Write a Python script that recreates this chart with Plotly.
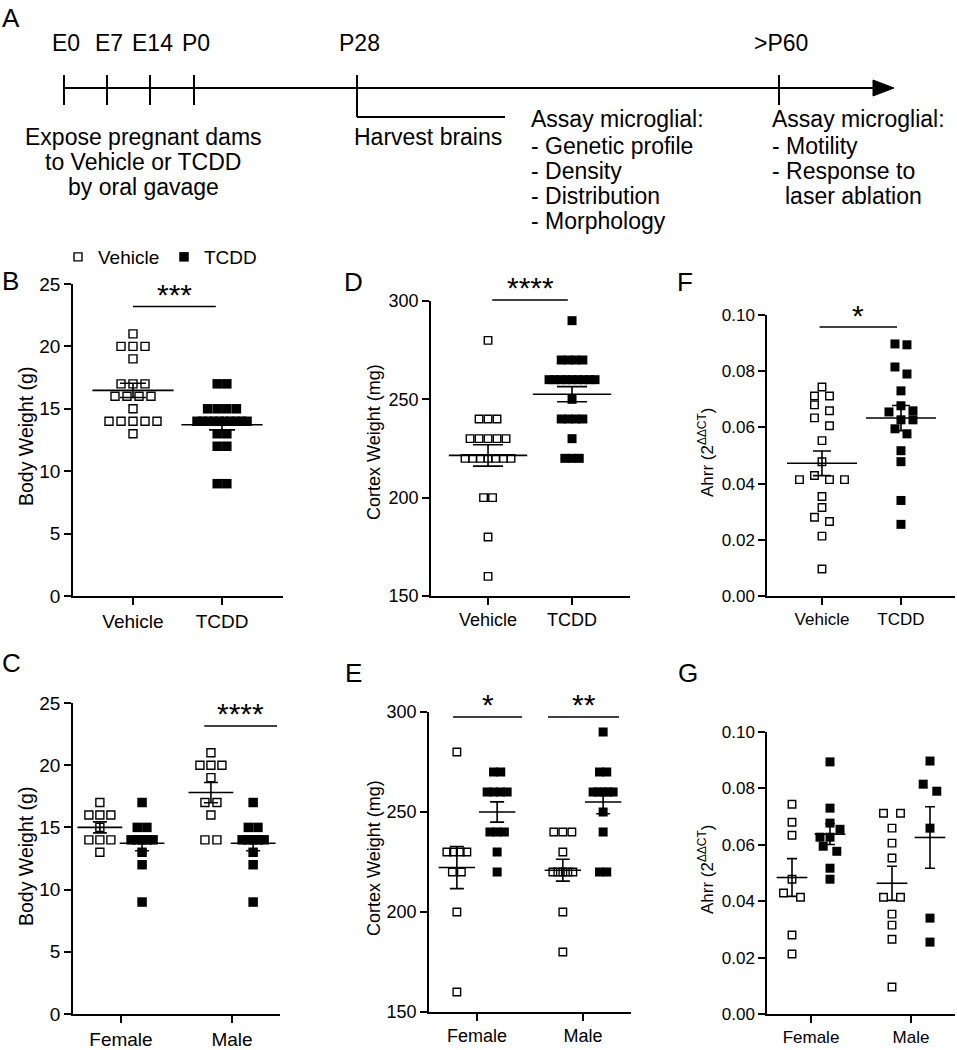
import numpy as np
import plotly.graph_objects as go

# ---------------- data ----------------
treatments = ["Vehicle", "TCDD"]
sexes = ["Female", "Male"]

# body weight (g)
bw_veh_f = [17, 16, 16, 16, 15, 14, 14, 14, 13]
bw_veh_m = [21, 20, 20, 20, 19, 17, 17, 16, 14, 14]
bw_tcdd_f = [17, 15, 15, 14, 14, 14, 14, 14, 13, 12, 9]
bw_tcdd_m = [17, 15, 15, 14, 14, 14, 14, 14, 13, 12, 9]

# cortex weight (mg)
cw_veh_f = [280, 230, 230, 230, 230, 220, 220, 200, 160]
cw_veh_m = [240, 240, 240, 230, 220, 220, 220, 220, 220, 200, 180]
cw_tcdd_f = [270, 270, 260, 260, 260, 260, 240, 240, 240, 230, 220]
cw_tcdd_m = [290, 270, 270, 260, 260, 260, 260, 260, 250, 240, 220, 220]

# Ahrr expression
ah_veh_f = [0.0744, 0.0680, 0.0634, 0.0478, 0.0429, 0.0414, 0.0280, 0.0213]
ah_veh_m = [0.0712, 0.0712, 0.0659, 0.0606, 0.0553, 0.0414, 0.0414, 0.0354, 0.0315, 0.0265, 0.0096]
ah_tcdd_f = [0.0894, 0.0730, 0.0677, 0.0655, 0.0627, 0.0627, 0.0595, 0.0577, 0.0517, 0.0478]
ah_tcdd_m = [0.0897, 0.0815, 0.0790, 0.0659, 0.0340, 0.0255]

# timeline (panel A)
stages = ["E0", "E7", "E14", "P0", "P28", ">P60"]
expose_text = ["Expose pregnant dams", "to Vehicle or TCDD", "by oral gavage"]
harvest_text = "Harvest brains"
assay1_text = ["Assay microglial:", "- Genetic profile", "- Density", "- Distribution", "- Morphology"]
assay2_text = ["Assay microglial:", "- Motility", "- Response to", "laser ablation"]

W, H = 957, 1050
FONT = "Liberation Sans, Arial, sans-serif"
d = 0.19  # dodge within sex groups


def sem(v):
    v = np.asarray(v, float)
    return v.std(ddof=1) / np.sqrt(len(v))


def swarm(vals, unit_px, step, size, maxhalf):
    # simple beeswarm, returns x offsets in px
    ys = [v * unit_px for v in vals]
    order = sorted(range(len(vals)), key=lambda i: -vals[i])
    clusters, cur = [], [order[0]]
    for a, b in zip(order, order[1:]):
        if ys[a] - ys[b] < size:
            cur.append(b)
        else:
            clusters.append(cur)
            cur = [b]
    clusters.append(cur)
    off = [0.0] * len(vals)
    for cl in clusters:
        placed = []
        for i in cl:
            k = 0
            while True:
                m = (k + 1) // 2
                c = m * step * (1 if k % 2 else -1)
                if all(abs(c - x) >= step - 1e-6 or abs(ys[i] - y) >= size for x, y in placed):
                    break
                k += 1
            placed.append((c, ys[i]))
            off[i] = c
        xs = [off[i] for i in cl]
        mid = (max(xs) + min(xs)) / 2
        half = (max(xs) - min(xs)) / 2
        f = min(1.0, maxhalf / half) if half > 0 else 1.0
        for i in cl:
            off[i] = (off[i] - mid) * f
    return off


panels = [
    dict(name="B", box=(73, 284, 283, 596), xr=(-0.674, 1.685), yr=(0, 25), ytick=[0, 5, 10, 15, 20, 25],
         yfmt="", xt=[0, 1], xtt=treatments, fs=19, ms=8, step=12, maxhalf=25, mh=29, cap=13,
         groups=[(0, bw_veh_f + bw_veh_m, False), (1, bw_tcdd_f + bw_tcdd_m, True)],
         sig=[(0.0, 0.93, 23.2, "***", 24.3)]),
    dict(name="D", box=(431, 301, 630, 596), xr=(-0.679, 1.690), yr=(150, 300), ytick=[150, 200, 250, 300],
         yfmt="", xt=[0, 1], xtt=treatments, fs=18, ms=7.5, step=9, maxhalf=23, mh=28, cap=15,
         groups=[(0, cw_veh_f + cw_veh_m, False), (1, cw_tcdd_f + cw_tcdd_m, True)],
         sig=[(0.05, 0.95, 300.5, "****", 308)]),
    dict(name="F", box=(767, 315, 955, 596), xr=(-0.696, 1.684), yr=(0, 0.10),
         ytick=[0, 0.02, 0.04, 0.06, 0.08, 0.10], yfmt=".2f", xt=[0, 1], xtt=treatments, fs=17,
         ms=7.5, step=15, maxhalf=25, mh=25, cap=9,
         groups=[(0, ah_veh_f + ah_veh_m, False), (1, ah_tcdd_f + ah_tcdd_m, True)],
         sig=[(-0.03, 0.95, 0.0957, "*", 0.1005)]),
    dict(name="C", box=(73, 703, 280, 1014), xr=(-0.432, 1.432), yr=(0, 25), ytick=[0, 5, 10, 15, 20, 25],
         yfmt="", xt=[0, 1], xtt=sexes, fs=19, ms=8, step=12, maxhalf=11, mh=16, cap=7,
         groups=[(-d, bw_veh_f, False), (d, bw_tcdd_f, True), (1 - d, bw_veh_m, False), (1 + d, bw_tcdd_m, True)],
         sig=[(0.75, 1.405, 23.15, "****", 24.3)]),
    dict(name="E", box=(429, 712, 631, 1012), xr=(-0.453, 1.453), yr=(150, 300), ytick=[150, 200, 250, 300],
         yfmt="", xt=[0, 1], xtt=sexes, fs=18, ms=7.5, step=9, maxhalf=10, mh=13, cap=7,
         groups=[(-d, cw_veh_f, False), (d, cw_tcdd_f, True), (1 - d, cw_veh_m, False), (1 + d, cw_tcdd_m, True)],
         sig=[(-0.226, 0.425, 297.5, "*", 305), (0.67, 1.34, 297.5, "**", 305)]),
    dict(name="G", box=(767, 732, 955, 1014), xr=(-0.44, 1.44), yr=(0, 0.10),
         ytick=[0, 0.02, 0.04, 0.06, 0.08, 0.10], yfmt=".2f", xt=[0, 1], xtt=sexes, fs=17,
         ms=7.5, step=17, maxhalf=10, mh=11, cap=5,
         groups=[(-d, ah_veh_f, False), (d, ah_tcdd_f, True), (1 - d, ah_veh_m, False), (1 + d, ah_tcdd_m, True)],
         sig=[]),
]

ytitles = {"B": ("Body Weight (g)", 26, 437, 19.5), "C": ("Body Weight (g)", 26, 857, 19.5),
           "D": ("Cortex Weight (mg)", 374, 442, 18), "E": ("Cortex Weight (mg)", 374, 858, 18),
           "F": ("Ahrr (2<sup>ΔΔCT</sup>)", 706, 453, 17), "G": ("Ahrr (2<sup>ΔΔCT</sup>)", 706, 870, 17)}
letters = {"A": (11, 18), "B": (10, 281), "C": (11, 663), "D": (353, 282), "E": (353, 673),
           "F": (685, 282), "G": (688, 673)}


def P(x, y):
    return x / W, 1 - y / H


def to_px(p, x, y):
    l, t, r, b = p["box"]
    x0, x1 = p["xr"]
    y0, y1 = p["yr"]
    return l + (x - x0) / (x1 - x0) * (r - l), b - (y - y0) / (y1 - y0) * (b - t)


fig = go.Figure()
shapes, annots = [], []
layout = {}

for k, p in enumerate(panels, start=1):
    xid = "x" if k == 1 else f"x{k}"
    yid = "y" if k == 1 else f"y{k}"
    l, t, r, b = p["box"]
    ax = dict(showline=True, linecolor="black", linewidth=1.5, ticks="outside", ticklen=7, tickwidth=1.5,
              tickcolor="black", showgrid=False, zeroline=False, automargin=False,
              tickfont=dict(size=p["fs"], color="black", family=FONT))
    layout["xaxis" + ("" if k == 1 else str(k))] = dict(ax, domain=[l / W, r / W], anchor=yid, range=list(p["xr"]),
                                                       tickvals=p["xt"], ticktext=p["xtt"])
    layout["yaxis" + ("" if k == 1 else str(k))] = dict(ax, domain=[1 - b / H, 1 - t / H], anchor=xid,
                                                       range=list(p["yr"]), tickvals=p["ytick"], tickformat=p["yfmt"])
    ypx = (b - t) / (p["yr"][1] - p["yr"][0])
    xpx = (r - l) / (p["xr"][1] - p["xr"][0])
    for gi, (xc, vals, filled) in enumerate(p["groups"]):
        step = p["step"] * (0.8 if filled else 1.0)
        off = swarm(vals, ypx, step, p["ms"] + 1, p["maxhalf"])
        xs = [xc + o / xpx for o in off]
        if filled:
            mk = dict(symbol="square", size=p["ms"] + 1.5, color="black", line=dict(width=0))
        else:
            mk = dict(symbol="square-open", size=p["ms"], color="black", line=dict(width=1.4, color="black"))
        show = p["name"] == "B"
        fig.add_trace(go.Scatter(x=xs, y=vals, mode="markers", marker=mk, xaxis=xid, yaxis=yid,
                                 name=treatments[1] if filled else treatments[0], showlegend=show,
                                 cliponaxis=False, hoverinfo="y"))
        fig.add_trace(go.Scatter(x=[xc], y=[float(np.mean(vals))], mode="markers", xaxis=xid, yaxis=yid,
                                 marker=dict(symbol="line-ew", size=2 * p["mh"], color="black",
                                             line=dict(width=1.6, color="black")),
                                 error_y=dict(type="data", array=[sem(vals)], width=p["cap"], thickness=1.6,
                                              color="black"),
                                 showlegend=False, cliponaxis=False, hoverinfo="skip"))
    for xa, xb, yl, lab, ys in p["sig"]:
        x0p, y0p = to_px(p, xa, yl)
        x1p, _ = to_px(p, xb, yl)
        a0, b0 = P(x0p, y0p)
        a1, _ = P(x1p, y0p)
        shapes.append(dict(type="line", xref="paper", yref="paper", x0=a0, x1=a1, y0=b0, y1=b0,
                           line=dict(color="black", width=1.5)))
        sx, sy = to_px(p, (xa + xb) / 2, ys)
        ax_, ay_ = P(sx, sy)
        annots.append(dict(x=ax_, y=ay_, xref="paper", yref="paper", text=lab, showarrow=False,
                           xanchor="center", yanchor="middle", yshift=-2,
                           font=dict(size=30, color="black", family=FONT)))

for key, (txt, x, y, fs) in ytitles.items():
    a, bb = P(x, y)
    annots.append(dict(x=a, y=bb, xref="paper", yref="paper", text=txt, textangle=-90, showarrow=False,
                       xanchor="center", yanchor="middle", font=dict(size=fs, color="black", family=FONT)))

for key, (x, y) in letters.items():
    a, bb = P(x, y)
    annots.append(dict(x=a, y=bb, xref="paper", yref="paper", text=key, showarrow=False,
                       xanchor="center", yanchor="middle", font=dict(size=26, color="black", family=FONT)))

# ---------------- panel A: timeline ----------------
stage_x = [64, 107, 150, 194, 357, 779]
line_y = 88
LW = 2
x0, y0 = P(63, line_y)
x1, _ = P(876, line_y)
shapes.append(dict(type="line", xref="paper", yref="paper", x0=x0, x1=x1, y0=y0, y1=y0,
                   line=dict(color="black", width=LW)))
ta, tb = P(873, 80)
tc, td = P(894, 88)
te, tf = P(873, 96)
shapes.append(dict(type="path", xref="paper", yref="paper", path=f"M {ta},{tb} L {tc},{td} L {te},{tf} Z",
                   fillcolor="black", line=dict(color="black", width=1)))
for name, sxp in zip(stages, stage_x):
    bottom = 117 if name == "P28" else 105
    a, top_ = P(sxp, 75)
    _, bot = P(sxp, bottom)
    shapes.append(dict(type="line", xref="paper", yref="paper", x0=a, x1=a, y0=top_, y1=bot,
                       line=dict(color="black", width=LW)))
    la, lb = P(sxp + 2, 43)
    annots.append(dict(x=la, y=lb, xref="paper", yref="paper", text=name, showarrow=False,
                       xanchor="center", yanchor="middle", font=dict(size=23, color="black", family=FONT)))
ha, hb = P(357, 117)
hc, _ = P(505, 117)
shapes.append(dict(type="line", xref="paper", yref="paper", x0=ha, x1=hc, y0=hb, y1=hb,
                   line=dict(color="black", width=LW)))


def text_block(lines, x, y, anchor, gap=25, indent_last=0):
    for i, s in enumerate(lines):
        xx = x + (indent_last if i == len(lines) - 1 else 0)
        a, bb = P(xx, y + i * gap)
        annots.append(dict(x=a, y=bb, xref="paper", yref="paper", text=s,
                           showarrow=False, xanchor=anchor, yanchor="middle",
                           font=dict(size=23, color="black", family=FONT)))


text_block(expose_text, 143, 137, "center")
text_block([harvest_text], 352, 137, "left")
text_block(assay1_text[:1], 529, 119, "left")
text_block(assay1_text[1:], 529, 146, "left")
text_block(assay2_text[:1], 770, 119, "left")
text_block(assay2_text[1:], 770, 146, "left", indent_last=13)

lx, ly = P(58, 257)
fig.update_layout(
    **layout,
    width=W, height=H,
    margin=dict(l=0, r=0, t=0, b=0, autoexpand=False),
    paper_bgcolor="white", plot_bgcolor="white",
    font=dict(family=FONT, color="black"),
    showlegend=True,
    legend=dict(orientation="h", x=lx, y=ly, xanchor="left", yanchor="middle",
                font=dict(size=19, color="black", family=FONT), entrywidth=61, entrywidthmode="pixels",
                bgcolor="rgba(0,0,0,0)"),
    shapes=shapes,
    annotations=annots,
)

# page body has a default 8px margin; drop it so the figure sits at the window origin
fig.write_html("out.html", config={"displayModeBar": False},
               post_script="document.body.style.margin='0px';")
